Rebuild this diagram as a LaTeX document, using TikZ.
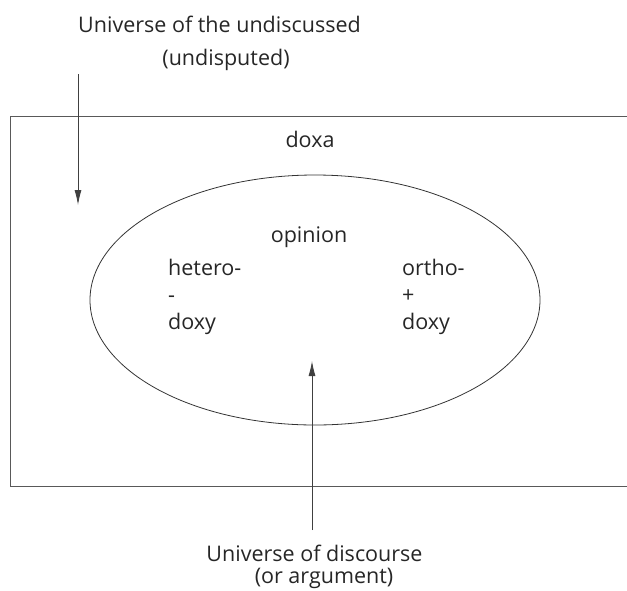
\documentclass[tikz,border=0pt]{standalone}
\usepackage{fontspec}
\setmainfont{Open Sans}
\usetikzlibrary{arrows.meta,shapes.geometric}
\begin{document}
\begin{tikzpicture}[x=1pt,y=-1pt,
  lbl/.style={font=\fontsize{21.5}{27}\selectfont, text=black!85, inner sep=0pt, anchor=base},
  lft/.style={lbl, anchor=base west},
  frame/.style={draw=black!65, line width=1pt},
  pointer/.style={draw=black!75, line width=0.9pt, -{Latex[length=15pt,width=7pt]}}]
\useasboundingbox (0,0) rectangle (627,590);
% doxa frame (right edge lies outside the picture)
\draw[frame] (627,116) -- (10,116) -- (10,486) -- (627,486);
% opinion ellipse
\node[draw=black!80, line width=0.8pt, ellipse, minimum width=450pt, minimum height=250pt, inner sep=0pt] (op) at (315,300) {};
% texts
\node[lbl] (und1) at (219.5,32) {Universe of the undiscussed};
\node[lbl] (und2) at (226,65) {(undisputed)};
\node[lbl] (doxa) at (310,147) {doxa};
\node[lbl] (opin) at (309,242) {opinion};
\node[lft] (het1) at (168,275) {hetero-};
\node[lft] (het2) at (168,302) {-};
\node[lft] (het3) at (168,329) {doxy};
\node[lft] (orth1) at (402,275) {ortho-};
\node[lft] (orth2) at (402,302) {+};
\node[lft] (orth3) at (402,329) {doxy};
\node[lbl] (disc1) at (314.5,561) {Universe of discourse};
\node[lbl] (disc2) at (324,583) {(or argument)};
% arrows
\coordinate (a1s) at (78,74);
\coordinate (a1e) at (78,205);
\coordinate (a2s) at (312,530);
\coordinate (a2e) at (312,361);
\draw[pointer] (a1s) -- (a1e);
\draw[pointer] (a2s) -- (a2e);
\end{tikzpicture}
\end{document}
